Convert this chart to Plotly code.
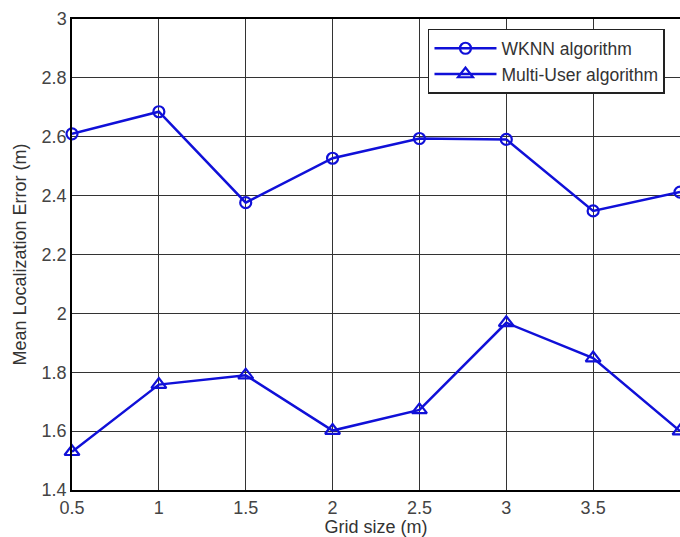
import plotly.graph_objects as go

grid_size = [0.5, 1, 1.5, 2, 2.5, 3, 3.5, 4]
wknn = [2.61, 2.685, 2.376, 2.527, 2.594, 2.591, 2.348, 2.412]
multi_user = [1.53, 1.758, 1.79, 1.602, 1.672, 1.968, 1.848, 1.60]
x_ticks = [0.5, 1, 1.5, 2, 2.5, 3, 3.5, 4]
x_tick_labels = ["0.5", "1", "1.5", "2", "2.5", "3", "3.5", "4"]
y_ticks = [1.4, 1.6, 1.8, 2.0, 2.2, 2.4, 2.6, 2.8, 3.0]
y_tick_labels = ["1.4", "1.6", "1.8", "2", "2.2", "2.4", "2.6", "2.8", "3"]

blue = "#1010d8"
fig = go.Figure()
fig.add_trace(go.Scatter(
    x=grid_size, y=wknn, name="WKNN algorithm", mode="lines+markers",
    line=dict(color=blue, width=2.5),
    marker=dict(symbol="circle-open", size=11, color=blue, line=dict(width=2.2, color=blue)),
    cliponaxis=False,
))
fig.add_trace(go.Scatter(
    x=grid_size, y=multi_user, name="Multi-User algorithm", mode="lines+markers",
    line=dict(color=blue, width=2.5),
    marker=dict(symbol="triangle-up-open", size=13, color=blue, line=dict(width=2.2, color=blue)),
    cliponaxis=False,
))

font = "Liberation Sans, Arial, sans-serif"
fig.update_layout(
    width=680, height=537,
    margin=dict(l=72, r=0, t=19, b=47),
    plot_bgcolor="white", paper_bgcolor="white",
    font=dict(family=font, size=18, color="#333333"),
    showlegend=True,
    legend=dict(
        x=0.5855, y=0.979, xanchor="left", yanchor="top",
        bgcolor="white", bordercolor="#222222", borderwidth=1.5,
        font=dict(family=font, size=17.5, color="#333333"),
        tracegroupgap=0, itemwidth=62,
    ),
    xaxis=dict(
        range=[0.5, 4], tickvals=x_ticks, ticktext=x_tick_labels,
        showgrid=True, gridcolor="#333333", gridwidth=1,
        showline=True, linecolor="black", linewidth=2, mirror=True,
        ticks="", zeroline=False, automargin=False,
        tickfont=dict(size=18, color="#444444"),
        title=dict(text="Grid size (m)", font=dict(size=18, color="#333333"), standoff=11),
    ),
    yaxis=dict(
        range=[1.4, 3.0], tickvals=y_ticks, ticktext=y_tick_labels,
        showgrid=True, gridcolor="#333333", gridwidth=1,
        showline=True, linecolor="black", linewidth=1.5, mirror=True,
        ticks="", zeroline=False, automargin=False,
        tickfont=dict(size=18, color="#444444"),
        title=dict(text="Mean Localization Error (m)", font=dict(size=18, color="#333333"), standoff=10),
    ),
)
fig.write_html(
    "out.html",
    config={"displayModeBar": False},
    post_script="document.body.style.margin='0';document.body.style.overflow='hidden';",
)
